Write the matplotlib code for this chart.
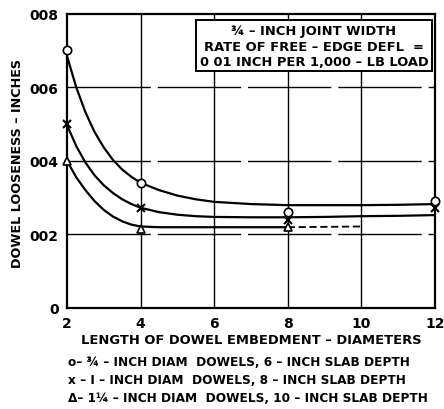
import matplotlib
matplotlib.use("Agg")
import matplotlib.pyplot as plt

# measured points (inches)
x_pts = [2, 4, 8, 12]
circle_pts = [0.0070, 0.0034, 0.0026, 0.0029]
cross_pts = [0.0050, 0.0027, 0.0024, 0.0027]
tri_x = [2, 4, 8]
tri_pts = [0.0040, 0.00215, 0.0022]

# faired curves
curve_x = [2.0, 2.25, 2.5, 2.75, 3.0, 3.25, 3.5, 3.75, 4.0, 4.5, 5.0, 5.5, 6.0, 7.0, 8.0, 9.0, 10.0, 11.0, 12.0]
circle_curve = [0.00685, 0.00600, 0.00532, 0.00478, 0.00436, 0.00402, 0.00376, 0.00356, 0.00340,
                0.00320, 0.00305, 0.00295, 0.00288, 0.00282, 0.00279, 0.00279, 0.00279, 0.00280, 0.00282]
cross_curve = [0.00497, 0.00440, 0.00395, 0.00360, 0.00333, 0.00312, 0.00295, 0.00282, 0.00272,
               0.00260, 0.00253, 0.00249, 0.00247, 0.00246, 0.00246, 0.00247, 0.00249, 0.00250, 0.00252]
tri_curve_x = [2.0, 2.25, 2.5, 2.75, 3.0, 3.25, 3.5, 3.75, 4.0, 4.5, 5.0, 6.0, 7.0, 8.0]
tri_curve = [0.00400, 0.00355, 0.00320, 0.00290, 0.00266, 0.00248, 0.00235, 0.00226, 0.00221,
             0.00219, 0.00219, 0.00219, 0.00219, 0.00219]
tri_dash_x = [8.0, 10.0]
tri_dash = [0.00219, 0.00221]

x_ticks = [2, 4, 6, 8, 10, 12]
y_ticks = [0, 0.002, 0.004, 0.006, 0.008]
y_tick_labels = ["0", "002", "004", "006", "008"]

legend_lines = [
    "o\u2013 \u00be \u2013 INCH DIAM  DOWELS, 6 \u2013 INCH SLAB DEPTH",
    "x \u2013 I \u2013 INCH DIAM  DOWELS, 8 \u2013 INCH SLAB DEPTH",
    "\u0394\u2013 1\u00bc \u2013 INCH DIAM  DOWELS, 10 \u2013 INCH SLAB DEPTH",
]
box_lines = ["\u00be \u2013 INCH JOINT WIDTH", "RATE OF FREE \u2013 EDGE DEFL  =", "0 01 INCH PER 1,000 \u2013 LB LOAD"]

plt.rcParams["font.family"] = "DejaVu Sans"
plt.rcParams["font.weight"] = "bold"

fig = plt.figure(figsize=(4.44, 4.10), dpi=100)
ax = fig.add_axes([67 / 444, (410 - 308.7) / 410, 368 / 444, 294 / 410])

ax.set_xlim(2, 12)
ax.set_ylim(0, 0.008)

# grid
for gx in x_ticks[1:-1]:
    ax.axvline(gx, color="black", lw=1.0, zorder=1)
for gy in y_ticks[1:-1]:
    ax.axhline(gy, color="black", lw=1.0, dashes=(60, 5), zorder=1)

# curves
ax.plot(curve_x, circle_curve, color="black", lw=1.6, zorder=2)
ax.plot(curve_x, cross_curve, color="black", lw=1.6, zorder=2)
ax.plot(tri_curve_x, tri_curve, color="black", lw=1.6, zorder=2)
ax.plot(tri_dash_x, tri_dash, color="black", lw=1.3, dashes=(4, 2), zorder=2)

# markers
ax.plot(x_pts, circle_pts, "o", ms=6, mfc="white", mec="black", mew=1.2, zorder=3, clip_on=False)
ax.plot(x_pts, cross_pts, "x", ms=6, mec="black", mew=1.5, zorder=3, clip_on=False)
ax.plot(tri_x, tri_pts, "^", ms=6, mfc="white", mec="black", mew=1.2, zorder=3, clip_on=False)

for s in ax.spines.values():
    s.set_linewidth(1.6)

ax.set_xticks(x_ticks)
ax.set_xticklabels([str(t) for t in x_ticks], fontsize=10, fontweight="bold")
ax.set_yticks(y_ticks)
ax.set_yticklabels(y_tick_labels, fontsize=10, fontweight="bold")
ax.tick_params(length=0, pad=6)

ax.set_xlabel("LENGTH OF DOWEL EMBEDMENT \u2013 DIAMETERS", fontsize=9.4, fontweight="bold", labelpad=2)
fig.text(18 / 444, 1 - 164 / 410, "DOWEL LOOSENESS \u2013 INCHES", rotation=90,
         ha="center", va="center", fontsize=9.2, fontweight="bold")

# note box
ax.add_patch(plt.Rectangle((196 / 444, 1 - 72 / 410), 236 / 444, 51 / 410, transform=fig.transFigure,
                           facecolor="white", edgecolor="black", lw=1.4, zorder=4))
for i, t in enumerate(box_lines):
    fig.text(314 / 444, 1 - (32 + 15.5 * i) / 410, t, ha="center", va="center",
             fontsize=9.4, fontweight="bold", zorder=5)

for i, t in enumerate(legend_lines):
    fig.text(68 / 444, 1 - (363 + 18 * i) / 410, t, ha="left", va="center",
             fontsize=8.7, fontweight="bold")

fig.savefig("out.png", dpi=100)
